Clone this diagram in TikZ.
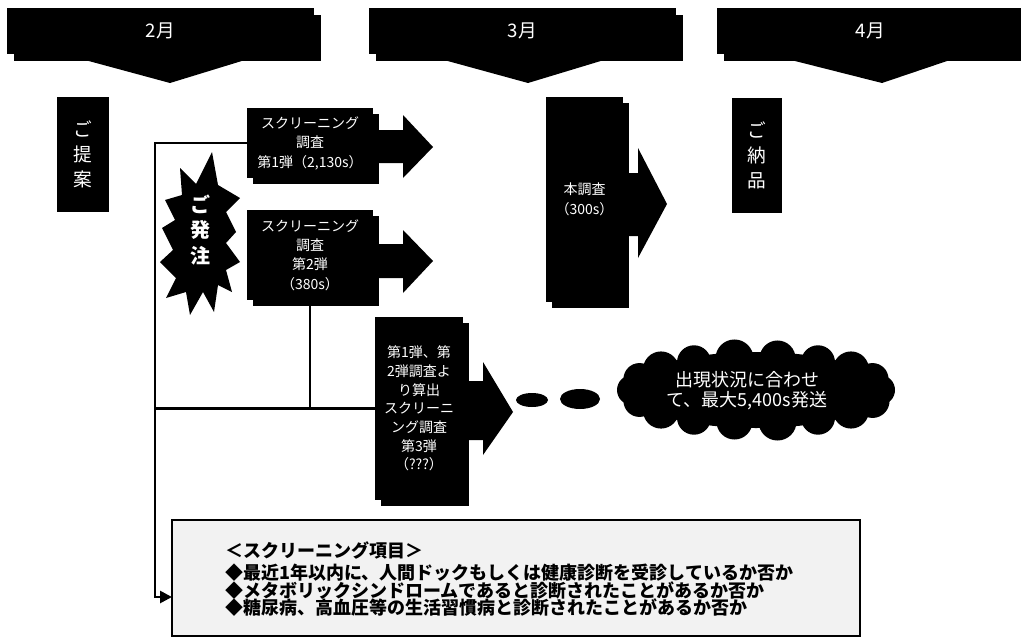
\documentclass[tikz,border=0pt]{standalone}
\usepackage{fontspec}
\setmainfont{Noto Sans CJK JP}
\usetikzlibrary{shapes.symbols,shapes.geometric,shadows,arrows.meta,calc}
\begin{document}
\begin{tikzpicture}[x=0.75pt,y=-0.75pt,
  blk/.style={fill=black,text=white,inner sep=0pt,align=center},
  shad/.style={drop shadow={shadow xshift=4.5pt,shadow yshift=-4.5pt,opacity=1,fill=black}},
  bannershad/.style={drop shadow={shadow xshift=5.25pt,shadow yshift=-5.25pt,opacity=1,fill=black}},
  banner/.style={blk,bannershad,minimum width=230.25pt,minimum height=34.5pt,font=\fontsize{14pt}{16pt}\selectfont},
  boxtxt/.style={font=\fontsize{10.5pt}{14.6pt}\selectfont},
  vtxt/.style={font=\fontsize{14pt}{19pt}\selectfont},
  conn/.style={line width=2pt},
  item/.style={anchor=base west,inner sep=0pt,font=\bfseries\fontsize{13.5pt}{13.5pt}\selectfont},
  dot/.style={ellipse,fill=black,inner sep=0pt},
]
\useasboundingbox[fill=white] (0,0) rectangle (1021,639);

% month banners with down arrows
\fill (85,60) -- (245,60) -- (170,83) -- cycle;
\fill (444,60) -- (604,60) -- (528,83) -- cycle;
\fill (791,60) -- (950,60) -- (882,83) -- cycle;
\node[banner] (m2) at (160.5,31) {2月};
\node[banner] (m3) at (522.5,31) {3月};
\node[banner] (m4) at (870.5,31) {4月};

% proposal / delivery
\node[blk,vtxt,minimum width=39pt,minimum height=86.25pt] (teian) at (83,154.5) {ご\\提\\案};
\node[blk,vtxt,minimum width=37.5pt,minimum height=86.25pt] (nohin) at (757,155.5) {ご\\納\\品};

% order starburst
\fill (212,152) -- (218,185) -- (240,198) -- (226,212) -- (236,232) -- (226,243)
  -- (240,262) -- (226,270) -- (232,292) -- (218,285) -- (214,312) -- (203,292)
  -- (190,315) -- (186,292) -- (166,298) -- (176,278) -- (160,262) -- (173,250)
  -- (162,228) -- (175,220) -- (165,200) -- (182,195) -- (180,168) -- (196,184) -- cycle;
\node[text=white,inner sep=0pt,align=center,font=\bfseries\fontsize{15pt}{19pt}\selectfont] (hatchu) at (200,230) {ご\\発\\注};

% block arrows
\fill (370,130) -- (403,130) -- (403,115) -- (433,147) -- (403,178) -- (403,163) -- (370,163) -- cycle;
\fill (370,244) -- (403,244) -- (403,230) -- (433,261) -- (403,293) -- (403,278) -- (370,278) -- cycle;
\fill (460,381) -- (483,381) -- (483,362) -- (513,412) -- (483,455) -- (483,440) -- (460,440) -- cycle;
\fill (620,173) -- (638,173) -- (638,148) -- (667,204) -- (638,258) -- (638,236) -- (620,236) -- cycle;

% screening boxes
\node[blk,shad,boxtxt,minimum width=94.5pt,minimum height=52.5pt] (b1) at (310,143)
  {スクリーニング\\調査\\第1弾（2,130s）};
\node[blk,shad,boxtxt,minimum width=94.5pt,minimum height=67.5pt] (b2) at (310,255)
  {スクリーニング\\調査\\第2弾\\（380s）};
\node[blk,shad,font=\fontsize{10.5pt}{14pt}\selectfont,minimum width=66pt,minimum height=137.25pt] (b3) at (419,408.5)
  {第1弾、第\\2弾調査よ\\り算出\\スクリーニ\\ング調査\\第3弾\\（???）};
\node[blk,shad,boxtxt,minimum width=57.75pt,minimum height=153.75pt] (hon) at (584.5,199.5)
  {本調査\\（300s）};

% dots and cloud
\node[dot,minimum width=24pt,minimum height=10.5pt] (e1) at (532,400) {};
\node[dot,minimum width=30pt,minimum height=15pt] (e2) at (580,399) {};
\coordinate (clc) at (756,390);
\fill (clc) ellipse [x radius=128, y radius=38];
\foreach \a/\r in {0/15,20/17,40/18,60/17,80/19,100/18,120/17,140/18,160/16,180/15,200/16,220/18,240/17,260/19,280/18,300/17,320/18,340/16}
  \fill ($(clc)+(\a:124 and 32)$) circle [radius=\r];
\node[text=white,inner sep=0pt,align=center,font=\fontsize{13.5pt}{15pt}\selectfont] (cltxt) at (747,391)
  {出現状況に合わせ\\て、最大5,400s発送};

% screening items box
\node[draw=black,line width=1.5pt,fill=black!5,minimum width=516pt,minimum height=87pt,inner sep=0pt] (items) at (516,578) {};
\node[item] (h0) at (225,557) {＜スクリーニング項目＞};
\node[item] (h1) at (225,579) {◆最近1年以内に、人間ドックもしくは健康診断を受診しているか否か};
\node[item] (h2) at (225,597) {◆メタボリックシンドロームであると診断されたことがあるか否か};
\node[item] (h3) at (225,614) {◆糖尿病、高血圧等の生活習慣病と診断されたことがあるか否か};

% connectors
\coordinate (lx) at (155,0);
\coordinate (arr) at (172,597);
\draw[conn,-{Triangle[length=9pt,width=9pt]}] (b1.west) -| (lx |- arr) -- (arr);
\draw[conn] (lx |- b3.west) -- (b3.west);
\draw[conn] (b2.south) -- (b2.south |- b3.west);
\end{tikzpicture}
\end{document}
